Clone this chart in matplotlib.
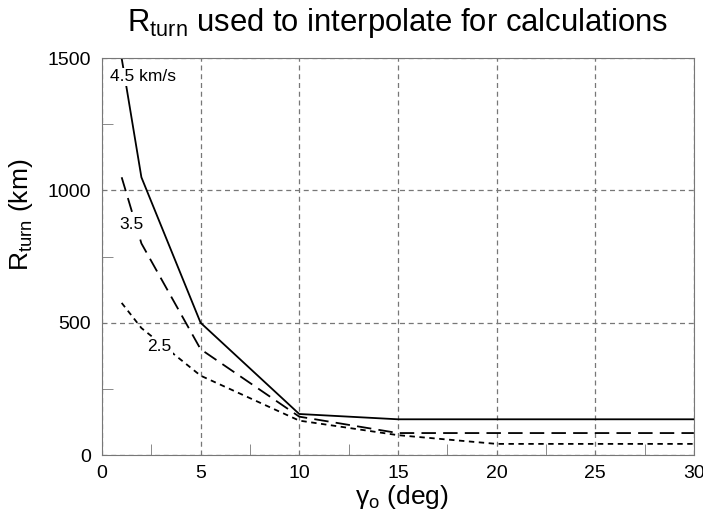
import matplotlib
matplotlib.use("Agg")
import matplotlib.pyplot as plt
from matplotlib.ticker import MultipleLocator

plt.rcParams['font.family'] = ['Liberation Sans', 'DejaVu Sans']

# flight path angle (deg)
gamma_45 = [1, 2, 5, 10, 15, 30]
rturn_45 = [1500, 1050, 500, 155, 135, 135]
gamma_35 = [1, 2, 5, 10, 15, 30]
rturn_35 = [1050, 800, 400, 145, 83, 83]
gamma_25 = [1, 2, 5, 10, 15, 20, 30]
rturn_25 = [575, 480, 300, 130, 75, 42, 42]

fig = plt.figure(figsize=(7.03, 5.2), dpi=100)
ax = fig.add_axes([0.145, 0.125, 0.842, 0.763])

ax.plot(gamma_45, rturn_45, color='black', lw=1.3, ls='-')
ax.plot(gamma_35, rturn_35, color='black', lw=1.3, ls=(0, (8, 4)))
ax.plot(gamma_25, rturn_25, color='black', lw=1.3, ls=(0, (3, 2.5)))

# curve labels with white backing so they break the lines
box = dict(facecolor='white', edgecolor='none', pad=1)
ax.text(0.4, 1430, '4.5 km/s', fontsize=12.5, va='center', ha='left', bbox=box)
ax.text(0.9, 870, '3.5', fontsize=12.5, va='center', ha='left', bbox=box)
ax.text(2.3, 410, '2.5', fontsize=12.5, va='center', ha='left', bbox=box)

ax.set_xlim(0, 30)
ax.set_ylim(0, 1500)
ax.xaxis.set_major_locator(MultipleLocator(5))
ax.xaxis.set_minor_locator(MultipleLocator(2.5))
ax.yaxis.set_major_locator(MultipleLocator(500))
ax.yaxis.set_minor_locator(MultipleLocator(250))
ax.tick_params(which='major', direction='in', length=0, labelsize=14, pad=8)
ax.tick_params(axis='x', which='major', pad=7)
ax.tick_params(which='minor', direction='in', length=8, color='#777777')
ax.grid(True, which='major', ls=(0, (4, 3)), color='#777777', lw=0.9)
for s in ax.spines.values():
    s.set_color('#777777')

fig.text(0.572, 0.045, r'$\mathregular{\gamma_o}$ (deg)', fontsize=19, ha='center', va='center')
fig.text(0.03, 0.587, r'$\mathregular{R_{turn}}$ (km)', fontsize=19, ha='center', va='center',
         rotation=90)
fig.text(0.565, 0.955, r'$\mathregular{R_{turn}}$ used to interpolate for calculations',
         fontsize=22.3, ha='center', va='center')

plt.savefig('out.png', dpi=100)
